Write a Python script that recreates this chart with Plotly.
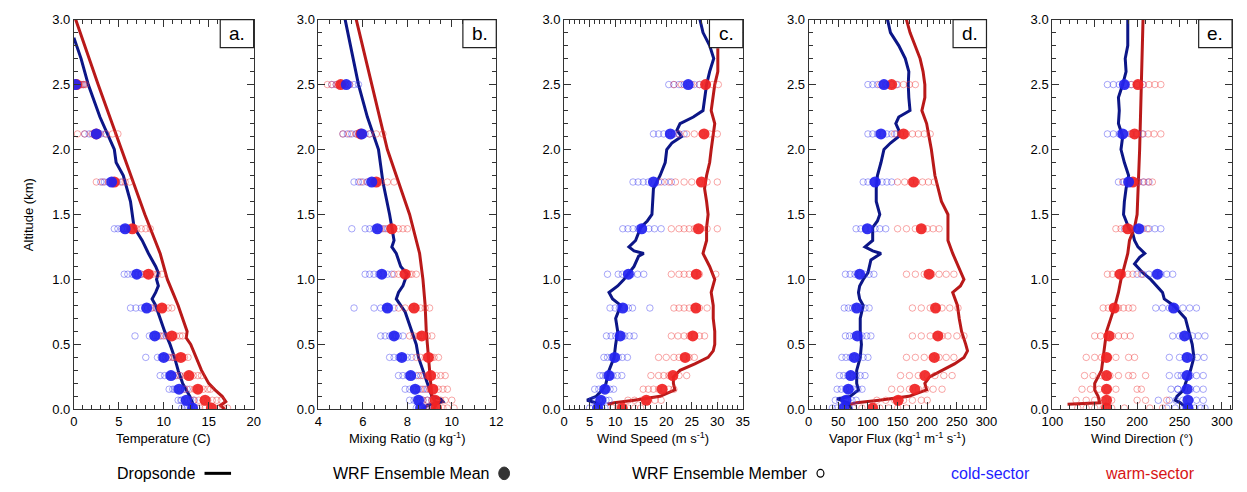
import plotly.graph_objects as go

# ---------------------------------------------------------------------------
# Model levels (km) used for the WRF ensemble mean / member markers
levels = [0.01, 0.07, 0.155, 0.26, 0.40, 0.565, 0.78, 1.04, 1.39, 1.75, 2.12, 2.50]

# ---------------- a. Temperature (C) ----------------
temp_cold_alt = [0.0, 0.05, 0.1, 0.2, 0.3, 0.4, 0.5, 0.6, 0.7, 0.8, 0.85, 0.9, 0.95, 1.0,
                 1.05, 1.1, 1.2, 1.3, 1.4, 1.5, 1.6, 1.8, 1.9, 2.0, 2.25, 2.5, 2.7, 2.86]
temp_cold = [13.0, 13.2, 12.9, 12.1, 11.6, 11.2, 10.7, 10.1, 9.6, 9.1, 8.7, 9.1, 9.4, 9.2,
             9.4, 9.1, 8.3, 7.6, 6.7, 6.5, 6.3, 5.5, 4.7, 4.5, 2.9, 1.6, 0.8, 0.0]
temp_warm_alt = [0.0, 0.03, 0.06, 0.1, 0.15, 0.2, 0.3, 0.4, 0.5, 0.55, 0.6, 0.7, 0.8, 0.9,
                 1.0, 1.2, 1.5, 2.0, 2.5, 3.0]
temp_warm = [16.8, 16.3, 16.9, 16.5, 15.7, 15.0, 14.2, 13.6, 13.0, 12.5, 12.6, 12.1, 11.6, 11.0,
             10.4, 9.6, 7.9, 5.3, 2.7, 0.2]
temp_cold_mean = [13.2, 12.5, 11.7, 10.8, 10.0, 9.0, 8.1, 7.0, 5.7, 4.2, 2.5, 0.2]
temp_warm_mean = [15.3, 14.6, 13.8, 12.8, 11.9, 10.9, 9.8, 8.3, 6.5, 4.5, 2.5, 0.3]
temp_cold_members = [
    [12.0, 12.4, 12.8, 13.1, 13.4, 13.7, 12.6],
    [11.6, 12.0, 12.3, 12.7, 13.0, 13.4, 11.9],
    [10.6, 11.0, 11.4, 11.9, 12.3, 12.6, 11.2],
    [9.6, 10.1, 10.5, 11.0, 11.4, 11.8, 10.8],
    [8.0, 9.3, 9.7, 10.2, 10.6, 11.0, 9.9],
    [6.8, 8.4, 8.8, 9.3, 9.7, 10.3, 9.1],
    [6.3, 6.9, 7.5, 8.2, 8.7, 9.2, 7.9],
    [5.6, 6.0, 6.5, 7.1, 7.5, 8.0, 6.8],
    [4.5, 4.9, 5.3, 5.8, 6.2, 6.6, 5.6],
    [3.0, 3.4, 3.8, 4.3, 4.8, 5.4, 4.1],
    [1.2, 1.7, 2.1, 2.6, 3.0, 3.5, 2.4],
    [0.1, 0.3, 0.5, 0.7, 0.9, 1.1, 0.2],
]
temp_warm_members = [
    [14.0, 14.6, 15.1, 15.6, 16.1, 16.6, 17.1],
    [13.3, 13.9, 14.4, 14.9, 15.4, 15.9, 16.4],
    [12.3, 12.9, 13.4, 13.9, 14.4, 14.9, 15.2],
    [11.3, 11.8, 12.4, 12.9, 13.3, 13.8, 14.2],
    [10.5, 11.0, 11.5, 11.9, 12.3, 12.7, 11.2],
    [9.5, 10.0, 10.5, 11.0, 11.4, 11.8, 12.1],
    [8.6, 9.1, 9.6, 10.0, 10.5, 10.9, 9.8],
    [7.5, 7.9, 8.4, 8.8, 9.3, 9.8, 8.1],
    [5.5, 6.0, 6.5, 7.0, 7.5, 8.0, 8.5],
    [2.5, 3.2, 3.9, 4.6, 5.2, 5.7, 6.2],
    [0.4, 1.2, 2.0, 2.8, 3.6, 4.3, 4.9],
    [0.3, 0.5, 0.8, 1.0, 1.3, 0.6, 1.1],
]

# ---------------- b. Mixing ratio (g/kg) ----------------
mix_cold_alt = [0.0, 0.03, 0.06, 0.08, 0.1, 0.15, 0.2, 0.3, 0.4, 0.5, 0.6, 0.7, 0.75, 0.8,
                0.85, 0.9, 0.95, 1.0, 1.04, 1.1, 1.15, 1.2, 1.25, 1.3, 1.4, 1.5, 1.75, 2.0,
                2.25, 2.5, 2.75, 3.0]
mix_cold = [8.7, 8.9, 9.6, 9.5, 9.1, 9.0, 8.9, 8.7, 8.5, 8.4, 8.2, 8.0, 7.9, 7.7,
            7.5, 7.6, 7.8, 7.9, 8.0, 7.7, 7.6, 7.5, 7.3, 7.4, 7.3, 7.2, 6.9, 6.7,
            6.2, 5.8, 5.5, 5.2]
mix_warm_alt = [0.0, 0.05, 0.1, 0.2, 0.3, 0.4, 0.5, 0.6, 0.8, 1.0, 1.2, 1.5, 2.0, 2.5, 3.0]
mix_warm = [9.2, 9.3, 9.1, 9.05, 9.0, 8.95, 8.9, 8.85, 8.8, 8.7, 8.55, 8.1, 7.1, 6.4, 5.7]
mix_cold_mean = [8.6, 8.5, 8.35, 8.15, 7.75, 7.4, 7.1, 6.85, 6.65, 6.4, 5.95, 5.25]
mix_warm_mean = [9.3, 9.25, 9.15, 9.05, 8.95, 8.65, 8.3, 7.9, 7.3, 6.6, 5.9, 5.0]
mix_cold_members = [
    [8.4, 8.6, 8.8, 9.0, 9.2, 8.5, 8.9],
    [8.1, 8.3, 8.5, 8.7, 8.9, 9.1, 8.6],
    [7.9, 8.1, 8.3, 8.5, 8.7, 8.9, 8.4],
    [7.6, 7.8, 8.0, 8.2, 8.4, 8.6, 8.1],
    [7.2, 7.4, 7.6, 7.8, 8.0, 8.2, 7.7],
    [6.8, 7.0, 7.2, 7.4, 7.6, 7.8, 7.5],
    [5.6, 6.5, 6.8, 7.0, 7.2, 7.4, 7.1],
    [6.1, 6.3, 6.5, 6.7, 6.9, 7.1, 7.3],
    [5.5, 6.1, 6.3, 6.5, 6.7, 6.9, 7.1],
    [5.6, 5.8, 6.0, 6.2, 6.4, 6.6, 6.3],
    [5.1, 5.3, 5.5, 5.7, 5.9, 6.1, 6.3],
    [4.6, 4.8, 5.0, 5.2, 5.4, 5.6, 5.8],
]
mix_warm_members = [
    [8.8, 9.0, 9.2, 9.4, 9.6, 9.8, 10.1],
    [8.7, 8.9, 9.1, 9.3, 9.5, 9.7, 10.0],
    [8.6, 8.8, 9.0, 9.2, 9.4, 9.6, 9.8],
    [8.5, 8.7, 8.9, 9.1, 9.3, 9.5, 9.7],
    [8.4, 8.6, 8.8, 9.0, 9.2, 9.4, 9.1],
    [8.1, 8.3, 8.5, 8.7, 8.9, 9.1, 8.6],
    [7.6, 7.9, 8.2, 8.4, 8.6, 8.8, 9.0],
    [7.4, 7.6, 7.8, 8.0, 8.2, 8.4, 8.1],
    [6.8, 7.0, 7.2, 7.4, 7.6, 7.8, 8.0],
    [5.9, 6.2, 6.5, 6.8, 7.1, 7.4, 6.6],
    [5.1, 5.4, 5.7, 6.0, 6.3, 6.6, 6.9],
    [4.4, 4.6, 4.8, 5.0, 5.2, 5.4, 4.9],
]

# ---------------- c. Wind speed (m/s) ----------------
wspd_cold_alt = [0.0, 0.02, 0.05, 0.07, 0.1, 0.15, 0.2, 0.3, 0.4, 0.5, 0.6, 0.7, 0.8, 0.85,
                 0.9, 0.95, 1.0, 1.1, 1.18, 1.2, 1.22, 1.25, 1.3, 1.4, 1.45, 1.5, 1.6, 1.7,
                 1.8, 1.9, 2.0, 2.05, 2.1, 2.15, 2.2, 2.25, 2.3, 2.4, 2.5, 2.6, 2.7, 2.8,
                 2.9, 3.0]
wspd_cold = [7.2, 6.9, 6.3, 4.5, 6.3, 7.5, 8.2, 8.8, 9.8, 10.1, 10.5, 10.1, 11.1, 9.5,
             8.8, 10.5, 11.7, 13.7, 14.6, 15.6, 13.7, 12.7, 14.0, 15.0, 16.3, 17.2, 17.4, 17.5,
             18.8, 19.8, 20.1, 21.1, 23.0, 22.1, 22.7, 25.3, 27.2, 27.5, 27.9, 28.5, 29.3, 28.5,
             27.2, 26.6]
wspd_warm_alt = [0.04, 0.05, 0.07, 0.1, 0.15, 0.2, 0.25, 0.3, 0.35, 0.4, 0.45, 0.5, 0.6, 0.7,
                 0.8, 0.9, 1.0, 1.1, 1.2, 1.3, 1.4, 1.5, 1.6, 1.7, 1.8, 1.9, 2.0, 2.1,
                 2.2, 2.3, 2.4, 2.5, 2.6, 2.78]
wspd_warm = [8.5, 9.8, 13.7, 18.8, 21.7, 21.4, 21.4, 22.7, 25.6, 28.2, 29.2, 29.5, 29.5, 29.2,
             29.2, 28.8, 29.5, 28.5, 27.2, 27.9, 27.9, 28.2, 27.9, 27.5, 27.9, 28.5, 28.8, 29.2,
             29.5, 28.8, 29.2, 29.5, 30.1, 30.1]
wspd_cold_mean = [6.6, 7.2, 8.0, 8.8, 9.9, 11.0, 11.5, 12.6, 15.2, 17.5, 20.8, 24.3]
wspd_warm_mean = [11.4, 16.1, 19.2, 21.3, 23.7, 25.2, 25.8, 25.9, 26.3, 26.9, 27.4, 27.7]
wspd_cold_members = [
    [5.0, 5.6, 6.2, 6.8, 7.4, 8.0, 6.5],
    [5.5, 6.2, 6.9, 7.5, 8.2, 8.8, 7.0],
    [6.0, 6.8, 7.5, 8.2, 9.0, 9.7, 8.0],
    [7.0, 7.6, 8.2, 8.9, 9.6, 10.4, 11.3],
    [7.8, 8.5, 9.2, 9.9, 10.6, 11.4, 12.4],
    [8.3, 9.2, 10.1, 11.0, 11.9, 12.8, 13.7],
    [9.0, 10.0, 10.8, 11.7, 12.6, 13.4, 16.8],
    [8.5, 10.6, 11.4, 12.2, 13.2, 14.4, 15.6],
    [11.5, 12.5, 13.5, 14.5, 15.5, 16.6, 17.7, 19.0],
    [13.5, 14.5, 15.5, 16.5, 18.5, 19.7, 21.0],
    [17.5, 18.5, 19.5, 20.5, 21.5, 22.5, 23.5],
    [20.5, 21.5, 22.5, 23.5, 24.5, 25.5, 26.5],
]
wspd_warm_members = [
    [9.5, 10.5, 11.5, 12.5, 13.8, 15.0, 10.8],
    [12.5, 13.8, 15.2, 16.5, 17.8, 19.0, 16.0],
    [15.5, 16.5, 17.5, 18.5, 19.5, 20.5, 21.5],
    [17.0, 18.5, 19.5, 20.5, 21.5, 22.5, 24.0],
    [18.5, 20.0, 21.5, 22.5, 23.5, 24.5, 25.5],
    [21.0, 22.3, 23.5, 24.5, 25.5, 26.5, 27.5],
    [21.5, 22.5, 23.5, 24.5, 25.5, 26.5, 28.0],
    [21.0, 22.5, 23.5, 24.5, 25.5, 26.5, 29.7],
    [21.0, 22.5, 23.5, 24.5, 25.5, 26.8, 28.0, 30.0],
    [19.0, 20.5, 21.8, 23.5, 25.0, 26.5, 28.0, 30.0],
    [21.0, 22.5, 24.0, 25.5, 27.0, 28.5, 30.0],
    [21.5, 23.0, 25.0, 26.5, 28.0, 29.0, 30.2],
]

# ---------------- d. Vapor flux ----------------
vflux_cold_alt = [0.0, 0.02, 0.05, 0.08, 0.1, 0.15, 0.2, 0.3, 0.4, 0.5, 0.6, 0.7, 0.8, 0.85,
                  0.9, 0.95, 1.0, 1.05, 1.15, 1.2, 1.22, 1.25, 1.3, 1.4, 1.45, 1.5, 1.6, 1.7,
                  1.8, 1.9, 2.0, 2.05, 2.1, 2.15, 2.2, 2.25, 2.3, 2.4, 2.5, 2.6, 2.7, 2.8,
                  2.9, 3.0]
vflux_cold = [72, 70, 67, 48, 70, 84, 81, 81, 87, 89, 87, 87, 92, 86,
              84, 86, 92, 100, 105, 122, 108, 95, 108, 108, 116, 120, 114, 114,
              116, 122, 127, 138, 152, 152, 147, 152, 171, 169, 168, 169, 163, 152,
              138, 133]
vflux_warm_alt = [0.04, 0.05, 0.07, 0.1, 0.15, 0.2, 0.25, 0.3, 0.35, 0.4, 0.45, 0.5, 0.6, 0.7,
                  0.8, 0.9, 0.95, 1.0, 1.1, 1.2, 1.3, 1.4, 1.5, 1.6, 1.8, 2.0, 2.2, 2.3,
                  2.4, 2.5, 2.6, 2.7, 2.8, 2.9, 3.0]
vflux_warm = [70, 81, 119, 169, 199, 196, 204, 224, 246, 262, 268, 265, 258, 254,
              251, 243, 256, 262, 252, 243, 235, 235, 235, 224, 213, 207, 199, 191,
              196, 196, 193, 188, 180, 171, 165]
vflux_cold_mean = [59, 63, 67, 71, 77, 82, 81, 86, 99, 112, 122, 127]
vflux_warm_mean = [108, 151, 179, 196, 212, 218, 214, 203, 190, 177, 160, 140]
vflux_cold_members = [
    [40, 48, 55, 62, 69, 76, 58],
    [45, 52, 59, 66, 73, 80, 62],
    [48, 55, 62, 69, 76, 83, 90],
    [52, 59, 66, 73, 80, 87, 95],
    [56, 63, 70, 77, 84, 92, 100],
    [62, 69, 76, 83, 90, 98, 105],
    [60, 67, 74, 81, 88, 95, 102],
    [62, 70, 78, 86, 94, 102, 110],
    [80, 88, 96, 104, 112, 120, 130],
    [92, 100, 108, 116, 124, 132, 140],
    [100, 108, 116, 124, 132, 140, 148],
    [100, 108, 116, 124, 132, 140, 148],
]
vflux_warm_members = [
    [75, 90, 105, 120, 135, 150, 165],
    [115, 130, 145, 160, 175, 190, 200],
    [140, 155, 170, 185, 198, 210, 225],
    [155, 170, 185, 200, 213, 228, 242],
    [165, 180, 195, 208, 220, 232, 245],
    [175, 190, 205, 215, 225, 235, 250, 262],
    [175, 190, 205, 215, 225, 238, 252],
    [165, 180, 195, 208, 220, 232, 245],
    [150, 165, 180, 190, 200, 210, 220],
    [150, 162, 172, 182, 192, 202, 212],
    [145, 155, 165, 175, 185, 195, 205],
    [120, 130, 140, 150, 160, 170, 180],
]

# ---------------- e. Wind direction (deg) ----------------
wdir_cold_alt = [0.0, 0.02, 0.05, 0.07, 0.1, 0.15, 0.2, 0.3, 0.4, 0.5, 0.6, 0.7, 0.8, 0.85,
                 0.9, 1.0, 1.05, 1.12, 1.17, 1.2, 1.25, 1.3, 1.35, 1.4, 1.45, 1.5, 1.6, 1.7,
                 1.8, 1.9, 2.0, 2.1, 2.2, 2.3, 2.4, 2.5, 2.6, 2.7, 2.8, 3.0]
wdir_cold = [259, 257, 251, 245, 247, 255, 257, 263, 267, 265, 261, 257, 243, 232,
             230, 216, 207, 197, 203, 209, 201, 197, 195, 190, 187, 184, 185, 187,
             190, 185, 181, 183, 178, 179, 178, 183, 187, 186, 189, 189]
wdir_warm_alt = [0.04, 0.045, 0.05, 0.1, 0.15, 0.2, 0.25, 0.3, 0.4, 0.5, 0.6, 0.7, 0.8, 0.9,
                 1.0, 1.1, 1.2, 1.3, 1.4, 1.5, 2.0, 2.5, 3.0]
wdir_warm = [118, 156, 156, 154, 150, 150, 154, 158, 160, 162, 164, 169, 174, 178,
             181, 185, 189, 191, 197, 200, 203, 205, 207]
wdir_cold_mean = [260, 260, 259, 259, 259, 256, 243, 224, 202, 190, 183, 185]
wdir_warm_mean = [164, 164, 164, 164, 164, 167, 173, 180, 189, 195, 197, 201]
wdir_cold_members = [
    [235, 245, 255, 262, 268, 275, 280],
    [238, 246, 254, 262, 270, 278, 225],
    [240, 248, 256, 263, 270, 278, 248],
    [238, 248, 256, 263, 270, 278, 252],
    [238, 250, 257, 264, 271, 279, 262],
    [242, 250, 258, 265, 272, 280, 260],
    [222, 230, 238, 246, 254, 262, 270],
    [200, 207, 214, 221, 228, 235, 242],
    [185, 193, 200, 207, 214, 221, 228],
    [178, 184, 190, 196, 202, 208, 214],
    [165, 172, 179, 186, 193, 200, 207],
    [165, 172, 179, 186, 193, 200, 207],
]
wdir_warm_members = [
    [130, 140, 150, 160, 170, 185, 215, 230],
    [128, 140, 150, 160, 170, 200, 210, 235],
    [135, 145, 155, 165, 175, 200, 205],
    [138, 148, 158, 168, 178, 190, 195, 210],
    [140, 150, 158, 166, 175, 190, 197],
    [150, 157, 164, 171, 178, 185, 192],
    [160, 166, 172, 178, 184, 190, 195],
    [165, 171, 177, 183, 189, 195, 205],
    [175, 181, 187, 193, 199, 205, 212],
    [183, 189, 195, 201, 207, 213, 218],
    [185, 192, 199, 206, 213, 220, 228],
    [185, 193, 200, 207, 214, 221, 228],
]

# ---------------------------------------------------------------------------
W, H = 1247, 492
FONT = "Liberation Sans, Arial, sans-serif"

COLD_LINE = "rgb(12,22,135)"
WARM_LINE = "rgb(185,25,25)"
COLD_DOT = "rgb(35,35,240)"
WARM_DOT = "rgb(240,35,35)"
COLD_MEMBER = "rgba(60,60,240,0.45)"
WARM_MEMBER = "rgba(240,60,60,0.45)"

panels = [
    dict(letter="a.", title="Temperature (C)", rng=[0, 20], dtick=5, minor=1, tick0=0,
         px=(64, 247),
         cold=(temp_cold_alt, temp_cold), warm=(temp_warm_alt, temp_warm),
         cmean=temp_cold_mean, wmean=temp_warm_mean,
         cmem=temp_cold_members, wmem=temp_warm_members),
    dict(letter="b.", title="Mixing Ratio (g kg<sup>-1</sup>)", rng=[4, 12], dtick=2, minor=0.5, tick0=4,
         px=(313, 494),
         cold=(mix_cold_alt, mix_cold), warm=(mix_warm_alt, mix_warm),
         cmean=mix_cold_mean, wmean=mix_warm_mean,
         cmem=mix_cold_members, wmem=mix_warm_members),
    dict(letter="c.", title="Wind Speed (m s<sup>-1</sup>)", rng=[0, 35], dtick=5, minor=1, tick0=0,
         px=(563, 745),
         cold=(wspd_cold_alt, wspd_cold), warm=(wspd_warm_alt, wspd_warm),
         cmean=wspd_cold_mean, wmean=wspd_warm_mean,
         cmem=wspd_cold_members, wmem=wspd_warm_members),
    dict(letter="d.", title="Vapor Flux (kg<sup>-1</sup> m<sup>-1</sup> s<sup>-1</sup>)", rng=[0, 300],
         dtick=50, minor=10, tick0=0, px=(812, 993),
         cold=(vflux_cold_alt, vflux_cold), warm=(vflux_warm_alt, vflux_warm),
         cmean=vflux_cold_mean, wmean=vflux_warm_mean,
         cmem=vflux_cold_members, wmem=vflux_warm_members),
    dict(letter="e.", title="Wind Direction (°)", rng=[100, 312], dtick=50, minor=10, tick0=100,
         px=(1060, 1243),
         cold=(wdir_cold_alt, wdir_cold), warm=(wdir_warm_alt, wdir_warm),
         cmean=wdir_cold_mean, wmean=wdir_warm_mean,
         cmem=wdir_cold_members, wmem=wdir_warm_members),
]

PLOT_TOP, PLOT_BOTTOM = 13, 415   # pixel rows of the panel frames
ydom = [(H - PLOT_BOTTOM) / H, (H - PLOT_TOP) / H]

fig = go.Figure()
layout_axes = {}
annotations = []
shapes = []


def members_xy(member_lists):
    xs, ys = [], []
    for lev, vals in zip(levels, member_lists):
        xs.extend(vals)
        ys.extend([lev] * len(vals))
    return xs, ys


for i, p in enumerate(panels):
    n = "" if i == 0 else str(i + 1)
    xa, ya = "x" + n, "y" + n

    # dropsonde profiles
    for (alt, val), col in ((p["cold"], COLD_LINE), (p["warm"], WARM_LINE)):
        fig.add_trace(go.Scatter(x=val, y=alt, mode="lines", xaxis=xa, yaxis=ya,
                                 line=dict(color=col, width=3), showlegend=False,
                                 hoverinfo="skip"))
    # ensemble members
    for mem, col in ((p["cmem"], COLD_MEMBER), (p["wmem"], WARM_MEMBER)):
        mx, my = members_xy(mem)
        fig.add_trace(go.Scatter(x=mx, y=my, mode="markers", xaxis=xa, yaxis=ya,
                                 marker=dict(symbol="circle-open", size=6.5, color=col,
                                             line=dict(width=1)),
                                 showlegend=False, hoverinfo="skip"))
    # ensemble means
    for mean, col in ((p["wmean"], WARM_DOT), (p["cmean"], COLD_DOT)):
        fig.add_trace(go.Scatter(x=mean, y=levels, mode="markers", xaxis=xa, yaxis=ya,
                                 marker=dict(symbol="circle", size=11, color=col, opacity=0.92),
                                 showlegend=False, hoverinfo="skip"))

    x0, x1 = p["px"]
    axis_common = dict(showline=True, linecolor="#333", linewidth=1, mirror="allticks",
                       ticks="inside", ticklen=7, tickwidth=1, tickcolor="#333",
                       showgrid=False, zeroline=False,
                       tickfont=dict(family=FONT, size=13, color="black"))
    layout_axes["xaxis" + n] = dict(
        axis_common, domain=[x0 / W, x1 / W], range=p["rng"], anchor=ya,
        tick0=p["tick0"], dtick=p["dtick"],
        minor=dict(dtick=p["minor"], tick0=p["tick0"], ticks="inside", ticklen=4,
                   tickcolor="#333", showgrid=False))
    layout_axes["yaxis" + n] = dict(
        axis_common, domain=ydom, range=[0, 3], anchor=xa,
        tick0=0, dtick=0.5, tickformat=".1f",
        minor=dict(dtick=0.1, ticks="inside", ticklen=4, tickcolor="#333", showgrid=False))

    # axis title below each panel
    annotations.append(dict(text=p["title"], x=(x0 + x1) / 2 / W, y=(H - 445) / H,
                            xref="paper", yref="paper", showarrow=False,
                            xanchor="center", yanchor="middle", borderpad=0,
                            font=dict(family=FONT, size=13, color="black")))
    # panel letter in a framed box at the top-right corner
    bx0, by1 = x1 - 34, PLOT_TOP + 29
    shapes.append(dict(type="rect", xref="paper", yref="paper",
                       x0=bx0 / W, x1=x1 / W, y0=(H - by1) / H, y1=(H - PLOT_TOP) / H,
                       line=dict(color="#222", width=1.2), fillcolor="white", layer="above"))
    annotations.append(dict(text=p["letter"], x=(bx0 + x1) / 2 / W,
                            y=(H - (PLOT_TOP + by1) / 2) / H,
                            xref="paper", yref="paper", showarrow=False,
                            xanchor="center", yanchor="middle",
                            font=dict(family=FONT, size=19, color="black")))

# y-axis title on the first panel
annotations.append(dict(text="Altitude (km)", x=18 / W, y=sum(ydom) / 2, xref="paper",
                        yref="paper", showarrow=False, textangle=-90,
                        xanchor="center", yanchor="middle",
                        font=dict(family=FONT, size=13, color="black")))

# bottom legend row
LEG_Y = 481
leg_font = dict(family=FONT, size=16, color="black")
for text, left, col in (("Dropsonde", 106, "black"),
                        ("WRF Ensemble Mean", 326, "black"),
                        ("WRF Ensemble Member", 630, "black"),
                        ("cold-sector", 955, "rgb(30,30,255)"),
                        ("warm-sector", 1112, "rgb(215,20,20)")):
    annotations.append(dict(text=text, x=left / W, y=(H - LEG_Y) / H, xref="paper",
                            yref="paper", showarrow=False, xanchor="left", yanchor="middle",
                            font=dict(leg_font, color=col)))
shapes.append(dict(type="line", xref="paper", yref="paper", x0=197 / W, x1=224 / W,
                   y0=(H - LEG_Y) / H, y1=(H - LEG_Y) / H, line=dict(color="black", width=3)))
shapes.append(dict(type="circle", xref="paper", yref="paper",
                   x0=(502 - 5.5) / W, x1=(502 + 5.5) / W,
                   y0=(H - LEG_Y - 6.5) / H, y1=(H - LEG_Y + 6.5) / H,
                   fillcolor="#333", line=dict(color="#333", width=1)))
shapes.append(dict(type="circle", xref="paper", yref="paper",
                   x0=(824 - 3.5) / W, x1=(824 + 3.5) / W,
                   y0=(H - LEG_Y - 4) / H, y1=(H - LEG_Y + 4) / H,
                   fillcolor="rgba(0,0,0,0)", line=dict(color="black", width=1.2)))

fig.update_layout(
    width=W, height=H, margin=dict(l=0, r=0, t=0, b=0),
    paper_bgcolor="white", plot_bgcolor="white",
    showlegend=False, annotations=annotations, shapes=shapes,
    **layout_axes,
)

fig.write_html("out.html")
